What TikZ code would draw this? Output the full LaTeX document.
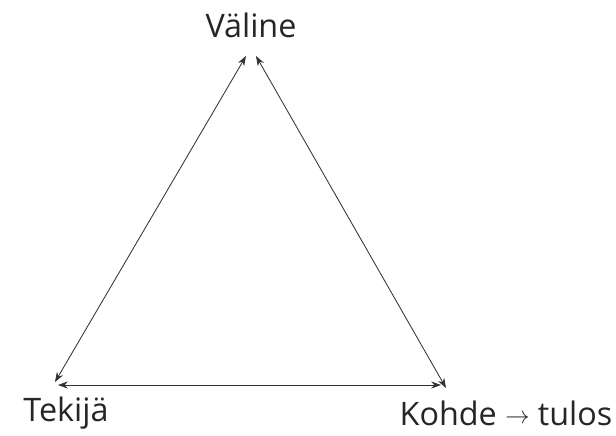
\documentclass[tikz,border=0pt]{standalone}
\usepackage{fontspec}
\setmainfont{Open Sans}
\usetikzlibrary{arrows.meta, positioning}

\newcommand{\smallto}{\raisebox{1.5pt}{\fontsize{16}{16}\selectfont$\rightarrow$}}

\begin{document}
\begin{tikzpicture}[x=0.025cm, y=-0.025cm,
  every node/.style={font=\fontsize{23}{27}\selectfont, text=black!85, inner sep=0pt},
  link/.style={{Stealth[length=7pt,width=5pt]}-{Stealth[length=7pt,width=5pt]}, line width=0.6pt, draw=black!80}]
  \useasboundingbox (0,0) rectangle (616,435);
  % corners of the triangle
  \coordinate (topL) at (246,56);
  \coordinate (topR) at (256,56);
  \coordinate (botL) at (55,382);
  \coordinate (botLh) at (58,385);
  \coordinate (botRh) at (441,385);
  \coordinate (botR) at (446,388);
  % labels
  \node (valine) at (251,25) {Väline};
  \node (tekija) at (66,413) {Tekijä};
  \node (kohde) at (506,413) {Kohde \smallto{} tulos};
  % sides
  \draw[link] (botL) -- (topL);
  \draw[link] (topR) -- (botR);
  \draw[link] (botLh) -- (botRh);
\end{tikzpicture}
\end{document}
